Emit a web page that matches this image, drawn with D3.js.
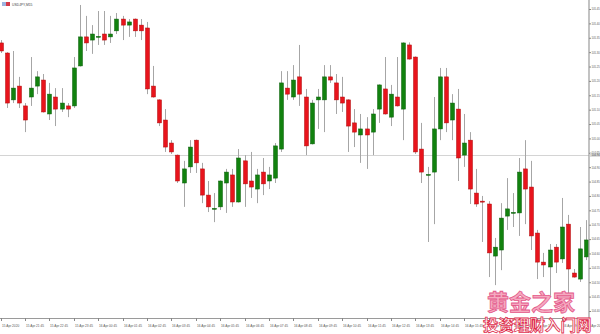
<!DOCTYPE html>
<html>
<head>
<meta charset="utf-8">
<script src="https://cdn.jsdelivr.net/npm/d3@7"></script>
<style>
body { margin: 0; background: #fff; }
svg { display: block; }
</style>
</head>
<body>
<script>
// taille de la fenetre
var larg = 600;
var haut = 334;

var symbole = "USDJPY,M15";

// OHLC des bougies M15
var opens = [105.332,105.297,105.134,105.182,105.113,105.144,105.182,105.203,105.085,105.144,
  105.102,105.113,105.113,105.252,105.353,105.342,105.353,105.363,105.353,105.374,
  105.415,105.394,105.415,105.394,105.384,105.182,105.134,105.064,104.984,104.942,
  104.845,104.901,104.994,104.894,104.803,104.755,104.762,104.845,104.873,104.779,
  104.922,104.852,104.824,104.883,104.852,104.862,104.963,105.175,105.144,105.214,
  105.144,104.981,105.134,105.134,105.214,105.193,105.144,105.134,105.054,105.012,
  105.033,105.022,105.102,105.172,105.074,105.144,105.102,105.325,105.283,104.963,
  104.873,104.883,105.033,105.214,105.064,105.102,104.942,104.994,104.810,104.782,
  104.772,104.591,104.612,104.730,104.741,104.741,104.894,104.831,104.671,104.570,
  104.553,104.622,104.581,104.702,104.532,104.511,104.588];
var highs = [105.342,105.300,105.304,105.214,105.123,105.283,105.234,105.224,105.193,105.175,
  105.175,105.123,105.283,105.464,105.426,105.394,105.443,105.443,105.426,105.436,
  105.426,105.415,105.417,105.415,105.405,105.252,105.136,105.102,104.994,104.944,
  104.922,104.994,104.996,104.915,104.852,104.810,104.854,104.894,104.894,104.963,
  104.942,104.953,104.894,104.932,104.901,104.984,105.234,105.234,105.255,105.325,
  105.172,105.134,105.172,105.255,105.255,105.224,105.214,105.136,105.102,105.085,
  105.074,105.102,105.188,105.283,105.186,105.283,105.334,105.334,105.285,105.054,
  104.901,105.144,105.245,105.245,105.154,105.172,105.085,105.022,104.894,104.800,
  104.782,104.654,104.775,104.862,104.810,104.932,104.994,104.922,104.682,104.602,
  104.633,104.633,104.793,104.734,104.546,104.692,104.716];
var lows = [105.297,105.106,105.123,105.106,105.022,105.113,105.154,105.090,105.064,105.043,
  105.092,105.074,105.106,105.250,105.304,105.294,105.325,105.325,105.332,105.363,
  105.342,105.353,105.353,105.342,105.154,105.142,105.043,104.953,104.946,104.845,
  104.762,104.880,104.880,104.775,104.744,104.709,104.751,104.741,104.762,104.777,
  104.762,104.793,104.775,104.803,104.824,104.845,104.953,105.134,105.134,105.113,
  104.942,104.979,105.033,105.022,105.193,105.085,105.092,104.953,104.970,104.915,
  104.894,104.942,105.054,105.083,105.043,105.111,104.994,105.274,104.946,104.845,
  104.640,104.702,104.994,105.022,104.994,104.852,104.901,104.772,104.762,104.640,
  104.518,104.490,104.542,104.682,104.692,104.661,104.702,104.612,104.511,104.518,
  104.449,104.532,104.567,104.456,104.516,104.501,104.577];
var closes = [105.304,105.123,105.175,105.123,105.064,105.175,105.214,105.092,105.154,105.102,
  105.123,105.102,105.245,105.353,105.332,105.363,105.355,105.342,105.363,105.415,
  105.394,105.405,105.374,105.374,105.172,105.144,105.054,104.970,104.953,104.852,
  104.894,104.970,104.915,104.803,104.762,104.757,104.852,104.883,104.779,104.932,
  104.842,104.831,104.873,104.842,104.873,104.974,105.193,105.154,105.203,105.154,
  104.974,105.123,105.144,105.214,105.203,105.134,105.123,105.043,105.022,105.033,
  105.012,105.085,105.186,105.085,105.154,105.113,105.332,105.276,104.953,104.883,
  104.875,105.033,105.214,105.054,105.123,104.932,104.984,104.824,104.772,104.780,
  104.602,104.622,104.723,104.755,104.743,104.883,104.824,104.661,104.570,104.560,
  104.612,104.570,104.692,104.546,104.518,104.616,104.647];

// graduations de prix (echelle de droite)
var prixTicks = [105.45,105.40,105.35,105.30,105.25,105.20,105.15,105.10,105.05,105.00,
  104.95,104.90,104.85,104.80,104.75,104.70,104.65,104.60,104.55,104.50,104.45,104.40];

// etiquettes de temps, une toutes les 4 bougies
var tempsLabels = ["15 Apr 2020","15 Apr 21:45","15 Apr 22:45","15 Apr 23:45",
  "16 Apr 00:45","16 Apr 01:45","16 Apr 02:45","16 Apr 03:45","16 Apr 04:45",
  "16 Apr 05:45","16 Apr 06:45","16 Apr 07:45","16 Apr 08:45","16 Apr 09:45",
  "16 Apr 10:45","16 Apr 11:45","16 Apr 12:45","16 Apr 13:45","16 Apr 14:45",
  "16 Apr 15:45","16 Apr 16:45","16 Apr 17:45","16 Apr 18:45","16 Apr 19:45",
  "16 Apr 20:45"];

var ligneBid = 104.944;

var bougies = opens.map(function(o, i) {
  return {i: i, o: o, h: highs[i], l: lows[i], c: closes[i]};
});

var axeX = 589;   // position de l'echelle de prix
var axeY = 318;   // position de l'echelle de temps

var x = d3.scaleLinear().domain([0, 96]).range([0.5, 586.1]);
var y = d3.scaleLinear().domain([104.40, 105.45]).range([311, 9]);

var svg = d3.select("body")
  .append("svg")
  .attr("width", larg)
  .attr("height", haut)
  .style("font-family", "'Liberation Sans', Arial, sans-serif");

svg.append("rect").attr("width", larg).attr("height", haut).attr("fill", "#fff");

// ligne bid
svg.append("line")
  .attr("x1", 0).attr("x2", axeX)
  .attr("y1", Math.round(y(ligneBid)) + 0.5).attr("y2", Math.round(y(ligneBid)) + 0.5)
  .attr("stroke", "#d4d4d4").attr("stroke-width", 1);

// meches
svg.selectAll("line.meche")
  .data(bougies)
  .enter()
  .append("line")
  .attr("class", "meche")
  .attr("x1", function(d) { return Math.round(x(d.i)) + 0.5; })
  .attr("x2", function(d) { return Math.round(x(d.i)) + 0.5; })
  .attr("y1", function(d) { return y(d.h); })
  .attr("y2", function(d) { return y(d.l); })
  .attr("stroke", "#a6a6a6")
  .attr("stroke-width", 1);

// corps
svg.selectAll("rect.corps")
  .data(bougies)
  .enter()
  .append("rect")
  .attr("class", "corps")
  .attr("x", function(d) { return Math.round(x(d.i)) - 1.5; })
  .attr("y", function(d) { return y(Math.max(d.o, d.c)); })
  .attr("width", 4)
  .attr("height", function(d) { return Math.max(1, Math.abs(y(d.o) - y(d.c))); })
  .attr("fill", function(d) { return d.c >= d.o ? "#12820f" : "#e8141c"; })
  .attr("stroke", function(d) { return d.c >= d.o ? "#0b5e0b" : "#b00a0a"; })
  .attr("stroke-width", 0.5);

// echelle de prix
svg.append("line")
  .attr("x1", axeX).attr("x2", axeX).attr("y1", 0).attr("y2", axeY)
  .attr("stroke", "#9a9a9a").attr("stroke-width", 1.2);

var axePrix = svg.append("g")
  .attr("transform", "translate(" + axeX + ",0)")
  .call(d3.axisRight(y).tickValues(prixTicks).tickSize(2).tickPadding(0.5)
    .tickFormat(d3.format(".2f")));
axePrix.select(".domain").remove();
axePrix.selectAll("line").attr("stroke", "#888");
axePrix.selectAll("text").attr("font-size", "2.7px").attr("fill", "#555")
  .attr("font-family", "'Liberation Sans', Arial, sans-serif");

// etiquette du bid
svg.append("rect")
  .attr("x", axeX + 1).attr("y", y(ligneBid) - 2.3)
  .attr("width", 11).attr("height", 4.6)
  .attr("fill", "#d8d8d8");
svg.append("text")
  .attr("x", axeX + 2.5).attr("y", y(ligneBid) + 1)
  .attr("font-size", "2.7px").attr("fill", "#444")
  .text(d3.format(".2f")(ligneBid));

// echelle de temps
svg.append("line")
  .attr("x1", 0).attr("x2", axeX).attr("y1", axeY + 0.5).attr("y2", axeY + 0.5)
  .attr("stroke", "#9a9a9a").attr("stroke-width", 1);

var temps = svg.selectAll("g.temps")
  .data(tempsLabels)
  .enter()
  .append("g")
  .attr("class", "temps")
  .attr("transform", function(d, k) { return "translate(" + (Math.round(x(k * 4)) + 0.5) + "," + axeY + ")"; });
temps.append("line").attr("y1", 0).attr("y2", 3).attr("stroke", "#888");
temps.append("text")
  .attr("x", 0.5).attr("y", 8.5)
  .attr("font-size", "3.2px").attr("fill", "#555")
  .text(function(d) { return d; });

// symbole en haut a gauche
svg.append("rect").attr("x", 2).attr("y", 2).attr("width", 4).attr("height", 4).attr("fill", "#9db4e0");
svg.append("rect").attr("x", 6).attr("y", 2).attr("width", 4).attr("height", 4).attr("fill", "#d23a4a");
svg.append("text")
  .attr("x", 12).attr("y", 5.6)
  .attr("font-size", "3.4px").attr("fill", "#444")
  .text(symbole);

// filigrane
svg.append("text")
  .attr("x", 487).attr("y", 310)
  .attr("font-family", "'Noto Sans CJK SC', sans-serif")
  .attr("font-size", "22px").attr("font-weight", "bold")
  .attr("fill", "#f5aac0").attr("stroke", "#e4588a").attr("stroke-width", 0.8)
  .text("黄金之家");
svg.append("text")
  .attr("x", 483).attr("y", 331)
  .attr("font-family", "'Noto Sans CJK SC', sans-serif")
  .attr("font-size", "15.5px").attr("font-weight", "bold")
  .attr("fill", "#fff").attr("stroke", "#e0304f").attr("stroke-width", 0.8)
  .text("投资理财入门网");
</script>
</body>
</html>
